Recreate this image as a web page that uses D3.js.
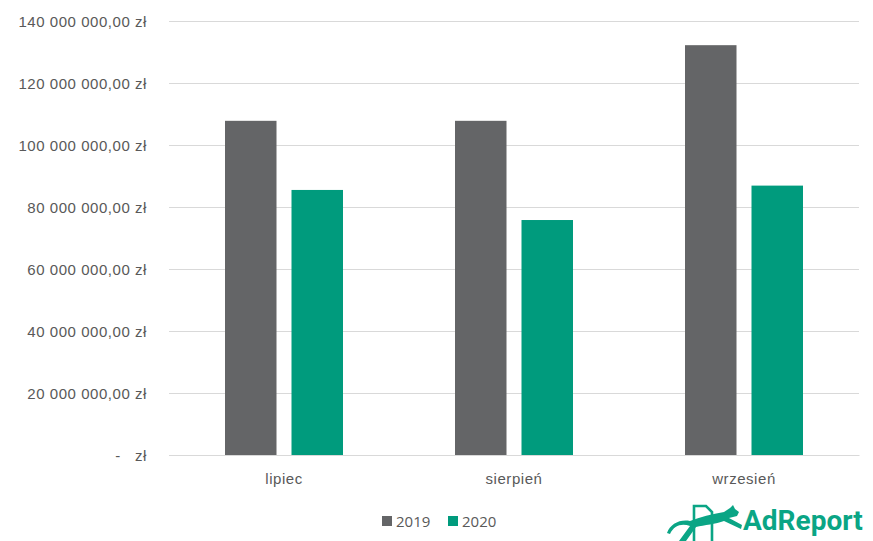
<!DOCTYPE html>
<html>
<head>
<meta charset="utf-8">
<script src="https://cdn.jsdelivr.net/npm/d3@7"></script>
<style>
  html, body { margin: 0; padding: 0; background: #fff; }
  svg { display: block; font-family: "Open Sans", Lato, sans-serif; }
  .tick text { white-space: pre; }
</style>
</head>
<body>
<svg id="chart" width="873" height="541"></svg>
<script>
// Monthly ad spend, 2019 vs 2020 (PLN)
const categories = ["lipiec", "sierpień", "wrzesień"];
const seriesNames = ["2019", "2020"];
const values2019 = [107800000, 107800000, 132200000];
const values2020 = [85500000, 75800000, 86900000];
const yTickValues = [0, 20000000, 40000000, 60000000, 80000000, 100000000, 120000000, 140000000];
const seriesColors = ["#646567", "#009b7d"];

const rows = categories.map((c, i) => ({ category: c, values: [values2019[i], values2020[i]] }));

const svg = d3.select("#chart");
const plot = { left: 169, right: 859, top: 21, bottom: 455 };
const labelFont = "15px";
const labelColor = "#595959";

const pl = d3.formatLocale({ decimal: ",", thousands: " ", grouping: [3], currency: ["", " zł"] });
const money = pl.format(",.2f");
const fmt = d => d === 0 ? "-   zł" : money(d) + " zł";

const y = d3.scaleLinear().domain([0, 140000000]).range([plot.bottom, plot.top]);
const x0 = d3.scaleBand().domain(categories).range([plot.left, plot.right]).paddingInner(0).paddingOuter(0);
const groupW = 118;
const x1 = d3.scaleBand().domain(seriesNames)
  .range([(x0.bandwidth() - groupW) / 2, (x0.bandwidth() + groupW) / 2])
  .paddingInner(0.2256).paddingOuter(0);

// horizontal gridlines + y labels
const yAxis = d3.axisLeft(y).tickValues(yTickValues).tickFormat(fmt)
  .tickSize(-(plot.right - plot.left)).tickPadding(22);
const gy = svg.append("g").attr("transform", `translate(${plot.left},0)`).call(yAxis);
gy.select(".domain").remove();
gy.selectAll(".tick line").attr("stroke", "#d9d9d9").attr("stroke-width", 1);
gy.selectAll(".tick text").attr("fill", labelColor).attr("font-family", null)
  .style("font-size", labelFont).style("letter-spacing", "0.55px").attr("dy", "0.38em");

// bars
const groups = svg.append("g").selectAll("g").data(rows).join("g")
  .attr("transform", d => `translate(${x0(d.category)},0)`);
groups.selectAll("rect").data(d => d.values.map((v, i) => ({ key: seriesNames[i], v, i })))
  .join("rect")
  .attr("x", d => x1(d.key))
  .attr("width", x1.bandwidth())
  .attr("y", d => y(d.v))
  .attr("height", d => y(0) - y(d.v))
  .attr("fill", d => seriesColors[d.i]);

// category axis
const xAxis = d3.axisBottom(x0).tickSize(0).tickPadding(18);
const gx = svg.append("g").attr("transform", `translate(0,${plot.bottom})`).call(xAxis);
gx.select(".domain").attr("stroke", "#d9d9d9");
gx.selectAll(".tick text").attr("fill", labelColor).attr("font-family", null)
  .style("font-size", labelFont).style("letter-spacing", "0.55px");

// legend
const legend = svg.append("g").attr("transform", "translate(382,516)");
const legendItems = legend.selectAll("g").data(seriesNames).join("g")
  .attr("transform", (d, i) => `translate(${i * 66},0)`);
legendItems.append("rect").attr("width", 10).attr("height", 10)
  .attr("fill", (d, i) => seriesColors[i]);
legendItems.append("text").attr("x", 14).attr("y", 10.5)
  .attr("fill", labelColor).style("font-size", labelFont).text(d => d);

// AdReport logo
const logoColor = "#0aa585";
const logo = svg.append("g");
logo.append("path")
  .attr("d", "M694,541 V506 H706 L712,512 V541")
  .attr("fill", "none").attr("stroke", logoColor).attr("stroke-width", 2.6);
logo.append("path")
  .attr("d", "M667,533 C670,524 680,519 690,521 C700,517 712,514 724,512 L730,508 L733,505 L735,509 L739,512 L737,516 L729,518 L742,525 L741,529 L724,521 C716,524 704,525 696,527 L686,541 L679,541 L690,526 C682,523 674,525 670,534 Z")
  .attr("fill", logoColor);
logo.append("text").attr("x", 743).attr("y", 530)
  .attr("fill", logoColor).attr("font-family", "Roboto, sans-serif")
  .attr("font-weight", 700).style("font-size", "28px").text("AdReport");
</script>
</body>
</html>
